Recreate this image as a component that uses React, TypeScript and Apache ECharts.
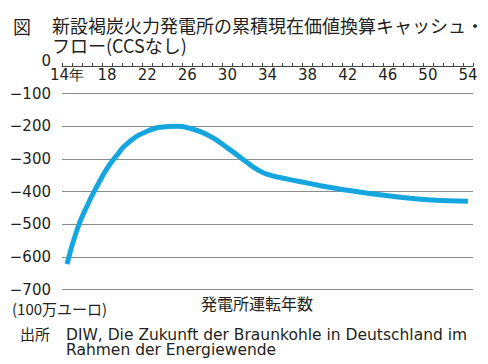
import React, { useEffect, useRef } from 'react';
import * as echarts from 'echarts';

const titleMark = '図';
const titleLine1 = '新設褐炭火力発電所の累積現在価値換算キャッシュ・';
const titleLine2 = 'フロー(CCSなし)';
const unitLabel = '(100万ユーロ)';
const xAxisName = '発電所運転年数';
const sourceMark = '出所';
const sourceLine1 = 'DIW, Die Zukunft der Braunkohle in Deutschland im';
const sourceLine2 = 'Rahmen der Energiewende';

const firstYear = 14;
const lastYear = 54;
const yearCategories: string[] = [];
for (let y = firstYear; y <= lastYear; y++) yearCategories.push(String(y));

const curveYears = [14, 15, 16, 17, 18, 19, 20, 22, 24, 25, 26, 28, 30, 32, 33, 34, 36, 38, 40, 42, 44, 46, 48, 50, 52, 54];
const curveValues = [-622, -517, -444, -383, -329, -288, -253, -215, -201, -200, -204, -226, -266, -312, -333, -347, -362, -374, -386, -396, -405, -413, -420, -425, -428, -430];

const yTicks = [-700, -600, -500, -400, -300, -200, -100, 0];

const JP = '"Noto Sans CJK JP", "Noto Sans", sans-serif';
const LAT = '"DejaVu Sans", "Liberation Sans", Arial, sans-serif';
const TEXT = '#231f20';

export default function App() {
  const ref = useRef<HTMLDivElement>(null);
  useEffect(() => {
    if (!ref.current) return;
    const chart = echarts.init(ref.current, null, { renderer: 'svg' });
    const gridColors = yTicks.map((v) => (v === 0 ? 'transparent' : '#8c8c8c'));
    chart.setOption({
      animation: false,
      backgroundColor: '#ffffff',
      grid: { left: 62, top: 61, width: 411, height: 228.5, containLabel: false },
      xAxis: [
        {
          type: 'category',
          data: yearCategories,
          position: 'top',
          offset: -5,
          boundaryGap: true,
          axisLine: { show: true, lineStyle: { color: '#444', width: 1 } },
          axisTick: { show: true, inside: false, length: 3, interval: 0, lineStyle: { color: '#444', width: 1 } },
          axisLabel: {
            inside: true,
            interval: 3,
            margin: 1,
            fontSize: 15,
            fontFamily: LAT,
            color: TEXT,
            formatter: (v: string) => (v === String(firstYear) ? v + '年' : v),
          },
          splitLine: { show: false },
        },
        {
          type: 'value',
          min: firstYear - 0.5,
          max: lastYear + 0.5,
          show: false,
        },
      ],
      yAxis: {
        type: 'value',
        min: -700,
        max: 0,
        interval: 100,
        axisLine: { show: false },
        axisTick: { show: false },
        axisLabel: {
          margin: 11,
          fontSize: 15,
          fontFamily: LAT,
          color: TEXT,
          formatter: (v: number) => String(v).replace('-', '−'),
        },
        splitLine: { show: true, lineStyle: { color: gridColors, width: 1 } },
      },
      series: [
        {
          type: 'line',
          xAxisIndex: 1,
          data: curveYears.map((y, i) => [y, curveValues[i]]),
          smooth: 0.5,
          showSymbol: false,
          symbol: 'none',
          lineStyle: { color: '#15a6df', width: 5 },
        },
      ],
      graphic: [
        { type: 'text', left: 13, top: 17, style: { text: titleMark, fontSize: 18, fontFamily: JP, fill: TEXT } },
        { type: 'text', left: 52, top: 16, style: { text: titleLine1, fontSize: 18, fontFamily: JP, fill: TEXT } },
        { type: 'text', left: 52, top: 36, style: { text: titleLine2, fontSize: 18, fontFamily: JP, fill: TEXT } },
        { type: 'text', left: 12, top: 301, style: { text: unitLabel, fontSize: 15, fontFamily: JP, fill: TEXT } },
        { type: 'text', left: 201, top: 295, style: { text: xAxisName, fontSize: 16, fontFamily: JP, fill: TEXT } },
        { type: 'text', left: 20, top: 326, style: { text: sourceMark, fontSize: 15, fontFamily: JP, fill: TEXT } },
        { type: 'text', left: 66, top: 327, style: { text: sourceLine1, fontSize: 15.5, fontFamily: LAT, fill: TEXT } },
        { type: 'text', left: 66, top: 342, style: { text: sourceLine2, fontSize: 15.5, fontFamily: LAT, fill: TEXT } },
      ],
    });
    return () => chart.dispose();
  }, []);
  return <div ref={ref} style={{ position: 'fixed', left: 0, top: 0, width: 488, height: 364, background: '#fff' }} />;
}
